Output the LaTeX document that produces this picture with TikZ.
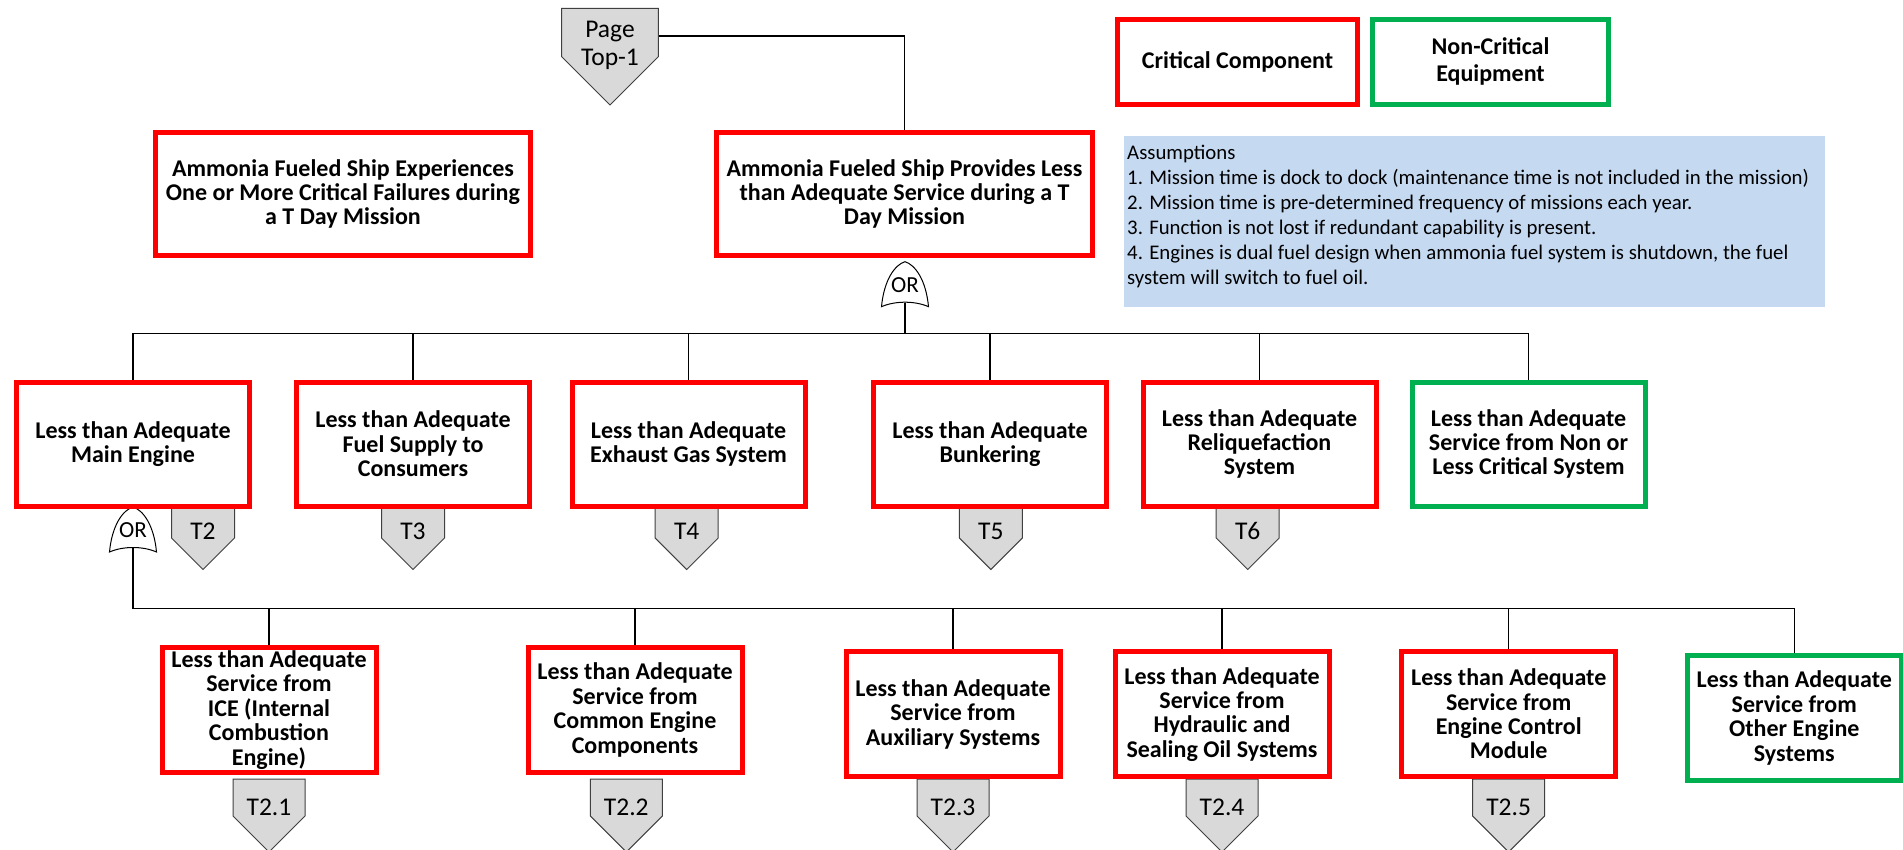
\documentclass[tikz,border=0pt]{standalone}
\usepackage{fontspec}
\setmainfont{Carlito}
\usetikzlibrary{backgrounds,calc}
\definecolor{critred}{HTML}{FF0000}
\definecolor{ncgreen}{HTML}{00B050}
\definecolor{asblue}{HTML}{C5D9F1}
\definecolor{xgray}{HTML}{D9D9D9}
\definecolor{xedge}{HTML}{404040}
\newcommand\bxfont{\fontsize{24}{24.4}\selectfont\bfseries}
\newcommand\topfont{\fontsize{24}{24.2}\selectfont\bfseries}
\newcommand\asfont{\fontsize{20.8}{25}\selectfont}
\newcommand\xfont{\fontsize{25.5}{28}\selectfont}
\newcommand\orgate[3]{%
  \draw[gateshape] (#2-23.5,#3+45) .. controls (#2-21,#3+18) and (#2-10,#3+3) .. (#2,#3)
     .. controls (#2+10,#3+3) and (#2+21,#3+18) .. (#2+23.5,#3+45)
     .. controls (#2+10,#3+39) and (#2-10,#3+39) .. cycle;
  \node[gatetext] (#1) at (#2,#3+23) {OR};
  \coordinate (#1b) at (#2,#3+41);
}
\newcommand\xfer[7]{%
  \filldraw[xfershape] (#2-#4,#3) -- (#2+#4,#3) -- (#2+#4,#3+#5) -- (#2,#3+#5+#4) -- (#2-#4,#3+#5) -- cycle;
  \node[xfertext] (#1) at (#2,#3+#6) {#7};
}
\tikzset{
  crit/.style={draw=critred, line width=5pt, fill=white, align=center, inner sep=0pt, font=\bxfont},
  ncrit/.style={crit, draw=ncgreen},
  rowtwo/.style={minimum width=233pt, minimum height=124pt},
  rowthree/.style={minimum width=214pt, minimum height=125pt},
  conn/.style={draw=black, line width=1.3pt},
  gateshape/.style={draw=black, line width=1pt, fill=white},
  gatetext/.style={font=\fontsize{23}{24}\selectfont, inner sep=0pt},
  xfershape/.style={fill=xgray, draw=xedge, line width=1pt},
  xfertext/.style={font=\xfont, inner sep=0pt, align=center},
}
\begin{document}
\begin{tikzpicture}[x=1pt, y=-1pt]
\useasboundingbox (0,0) rectangle (1903,850);

% transfer symbols
\xfer{pg}{610}{8.3}{48.3}{48.4}{37}{Page\\Top-1}
\xfer{t2}{203}{507}{31.5}{31}{24}{T2}
\xfer{t3}{413}{507}{31.5}{31}{24}{T3}
\xfer{t4}{686.7}{507}{31.5}{31}{24}{T4}
\xfer{t5}{990.8}{507}{31.5}{31}{24}{T5}
\xfer{t6}{1247.7}{507}{31.5}{31}{24}{T6}
\xfer{t21}{269}{779}{36}{37}{28}{T2.1}
\xfer{t22}{626.3}{779}{36}{37}{28}{T2.2}
\xfer{t23}{953}{779}{36}{37}{28}{T2.3}
\xfer{t24}{1222}{779}{36}{37}{28}{T2.4}
\xfer{t25}{1508.6}{779}{36}{37}{28}{T2.5}

% gates
\orgate{g1}{905}{261.7}
\orgate{g2}{133}{507}

% top row
\node[crit, font=\topfont, minimum width=375pt, minimum height=123pt] (ev0) at (343,194)
  {Ammonia Fueled Ship Experiences\\One or More Critical Failures during\\a T Day Mission};
\node[crit, font=\topfont, minimum width=376pt, minimum height=123pt] (top) at (904.5,194)
  {Ammonia Fueled Ship Provides Less\\than Adequate Service during a T\\Day Mission};

% legend
\node[crit, minimum width=240pt, minimum height=85pt] (lc) at (1237.5,61.7) {Critical Component};
\node[ncrit, font=\fontsize{24}{26.7}\selectfont\bfseries, minimum width=236pt, minimum height=85pt] (ln) at (1490.5,61.7) {Non-Critical\\Equipment};

% assumptions
\node[fill=asblue, anchor=north west, minimum width=701pt, minimum height=171pt, inner sep=0pt] (asb) at (1124,136) {};
\node[anchor=north west, inner sep=0pt, align=left, font=\asfont] (ast) at (1127,144.5)
  {Assumptions\\
   1. Mission time is dock to dock (maintenance time is not included in the mission)\\
   2. Mission time is pre-determined frequency of missions each year.\\
   3. Function is not lost if redundant capability is present.\\
   4. Engines is dual fuel design when ammonia fuel system is shutdown, the fuel\\
   system will switch to fuel oil.};

% row two
\node[crit, rowtwo] (me) at (133,444) {Less than Adequate\\Main Engine};
\node[crit, rowtwo] (fs) at (413,444) {Less than Adequate\\Fuel Supply to\\Consumers};
\node[crit, rowtwo] (eg) at (688.5,444) {Less than Adequate\\Exhaust Gas System};
\node[crit, rowtwo] (bk) at (990,444) {Less than Adequate\\Bunkering};
\node[crit, rowtwo] (rl) at (1259.5,444) {Less than Adequate\\Reliquefaction\\System};
\node[ncrit, rowtwo] (nc) at (1528.5,444) {Less than Adequate\\Service from Non or\\Less Critical System};

% row three
\node[crit, rowthree] (ice) at (269,710) {Less than Adequate\\Service from\\ICE (Internal\\Combustion\\Engine)};
\node[crit, rowthree] (cec) at (635,710) {Less than Adequate\\Service from\\Common Engine\\Components};
\node[crit, rowthree] (aux) at (953,714.3) {Less than Adequate\\Service from\\Auxiliary Systems};
\node[crit, rowthree] (hyd) at (1222,714.3) {Less than Adequate\\Service from\\Hydraulic and\\Sealing Oil Systems};
\node[crit, rowthree] (ecm) at (1508.7,714) {Less than Adequate\\Service from\\Engine Control\\Module};
\node[ncrit, rowthree] (oth) at (1794.3,718) {Less than Adequate\\Service from\\Other Engine\\Systems};

% connectors
\coordinate (pgR) at (658.3,36);
\coordinate (bar1) at (0,333.5);
\coordinate (bar2) at (0,608.3);
\begin{pgfonlayer}{background}
  \draw[conn] (pgR) -| (top.north);
  \foreach \c in {me,fs,eg,bk,rl,nc}
    \draw[conn] (g1b) -- (g1b |- bar1) -| (\c.north);
  \foreach \c in {ice,cec,aux,hyd,ecm,oth}
    \draw[conn] (g2b) -- (g2b |- bar2) -| (\c.north);
\end{pgfonlayer}
\end{tikzpicture}
\end{document}
